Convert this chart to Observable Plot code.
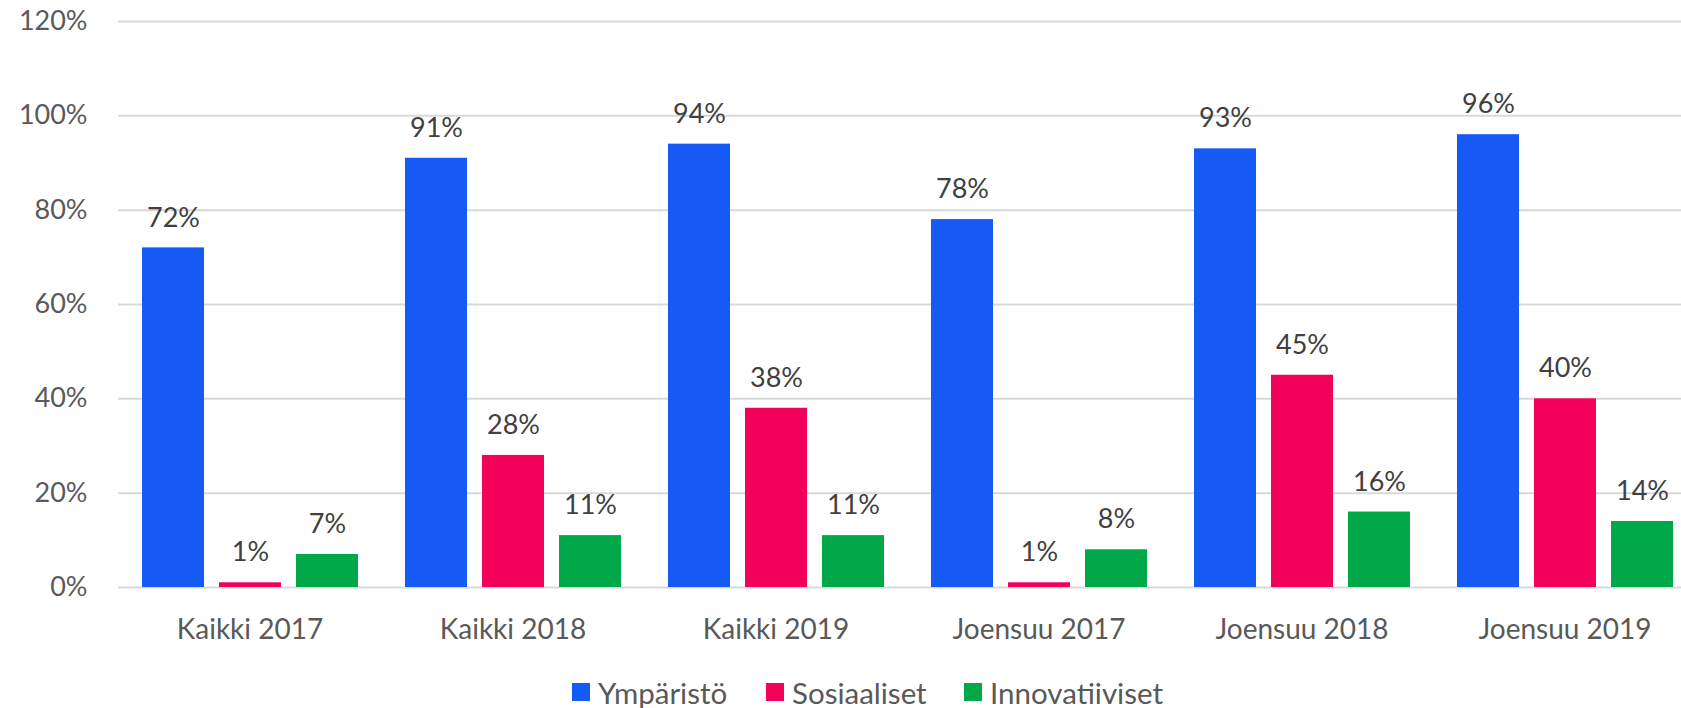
<!DOCTYPE html>
<html>
<head>
<meta charset="utf-8">
<script src="https://cdn.jsdelivr.net/npm/d3@7"></script>
<script src="https://cdn.jsdelivr.net/npm/@observablehq/plot@0.6"></script>
<style>
  html, body { margin: 0; padding: 0; background: #fff; overflow: hidden; }
  #wrap { position: relative; width: 1681px; height: 708px; overflow: hidden; }
  #chart svg { display: block; overflow: hidden; }
  .lg-item { position: absolute; top: 674px; height: 36px; display: flex; align-items: center;
             font-family: Lato, "Noto Sans", sans-serif; font-size: 29.5px; color: #595959; white-space: nowrap; }
  .lg-sw { width: 18px; height: 18px; margin-right: 8px; flex: none; }
</style>
</head>
<body>
<div id="wrap">
  <div id="chart"></div>
  <div id="legend"></div>
</div>
<script>
const categories = ["Kaikki 2017", "Kaikki 2018", "Kaikki 2019", "Joensuu 2017", "Joensuu 2018", "Joensuu 2019"];
const series = ["Ympäristö", "Sosiaaliset", "Innovatiiviset"];
const ymparisto = [72, 91, 94, 78, 93, 96];
const sosiaaliset = [1, 28, 38, 1, 45, 40];
const innovatiiviset = [7, 11, 11, 8, 16, 14];
const colors = ["#155af5", "#f2005a", "#00a84a"];
const yTicks = [0, 20, 40, 60, 80, 100, 120];

const seriesValues = [ymparisto, sosiaaliset, innovatiiviset];
const data = categories.flatMap((c, i) => series.map((s, j) => ({cat: c, s, v: seriesValues[j][i]})));

const chart = Plot.plot({
  width: 1681,
  height: 660,
  marginLeft: 116,
  marginRight: -16,
  marginTop: 21,
  marginBottom: 73,
  style: {fontFamily: "Lato, 'Noto Sans', sans-serif", fontSize: "27px", background: "white", overflow: "hidden"},
  fx: {domain: categories, padding: 0, label: null},
  x: {domain: series, paddingInner: 0.2, paddingOuter: 0.3, axis: null},
  y: {domain: [0, 120], label: null},
  color: {domain: series, range: colors},
  marks: [
    Plot.gridY(yTicks, {stroke: "#d9d9d9", strokeOpacity: 1, strokeWidth: 2}),
    Plot.axisY(yTicks, {tickSize: 0, tickPadding: 31, tickFormat: d => d + "%", fill: "#595959", fontSize: 27, label: null}),
    Plot.axisFx({anchor: "bottom", tickSize: 0, tickPadding: 32, fill: "#595959", fontSize: 28, label: null}),
    Plot.barY(data, {fx: "cat", x: "s", y: "v", fill: "s"}),
    Plot.text(data, {fx: "cat", x: "s", y: "v", text: d => d.v + "%", dy: -30, lineAnchor: "middle", fill: "#404040", fontSize: 27})
  ]
});
document.getElementById("chart").appendChild(chart);

const legendX = [572, 766, 964];
const legend = document.getElementById("legend");
series.forEach((s, i) => {
  const item = document.createElement("div");
  item.className = "lg-item";
  item.style.left = legendX[i] + "px";
  const sw = document.createElement("span");
  sw.className = "lg-sw";
  sw.style.background = colors[i];
  const t = document.createElement("span");
  t.textContent = s;
  item.appendChild(sw);
  item.appendChild(t);
  legend.appendChild(item);
});
</script>
</body>
</html>
